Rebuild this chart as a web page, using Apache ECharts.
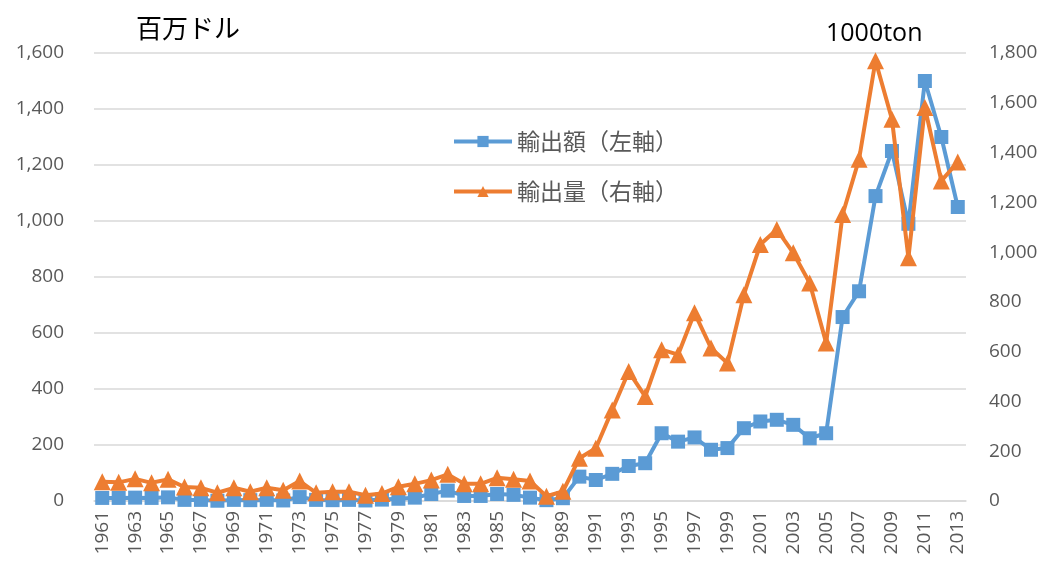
<!DOCTYPE html>
<html>
<head>
<meta charset="utf-8">
<script src="https://cdn.jsdelivr.net/npm/echarts@6/dist/echarts.min.js"></script>
<style>
html,body{margin:0;padding:0;background:#fff;}
#chart{width:1046px;height:566px;}
</style>
</head>
<body>
<div id="chart"></div>
<script>
const years = [];
for (let y = 1961; y <= 2013; y++) years.push(String(y));

const exportValue = [11, 11, 12, 11, 13, 4, 4, 1, 4, 3,
  4, 2, 14, 4, 3, 4, 2, 5, 8, 12,
  25, 37, 18, 18, 25, 22, 12, 3, 10, 87,
  75, 97, 125, 135, 242, 212, 227, 183, 189, 260,
  284, 290, 272, 224, 242, 657, 749, 1089, 1250, 990,
  1500, 1300, 1050];

const exportVolume = [77, 75, 89, 73, 87, 56, 53, 33, 53, 37,
  53, 43, 80, 33, 37, 37, 23, 30, 57, 69,
  84, 107, 69, 69, 93, 87, 80, 19, 39, 172,
  212, 366, 520, 420, 608, 588, 756, 615, 554, 829,
  1031, 1091, 997, 876, 635, 1151, 1373, 1769, 1534, 977,
  1581, 1286, 1362];

const seriesNames = ['輸出額（左軸）', '輸出量（右軸）'];
const leftUnit = '百万ドル';
const rightUnit = '1000ton';

const chart = echarts.init(document.getElementById('chart'), null, {renderer: 'canvas'});
const latin = "'Open Sans', 'Liberation Sans', sans-serif";
const cjk = "'Noto Sans CJK JP', sans-serif";
const grey = '#595959';

chart.setOption({
  animation: false,
  backgroundColor: '#ffffff',
  title: [
    {text: leftUnit, left: 131, top: 10, textStyle: {fontFamily: cjk, fontSize: 26, fontWeight: 'normal', color: '#000'}},
    {text: rightUnit, left: 821, top: 16, textStyle: {fontFamily: latin, fontSize: 25, fontWeight: 'normal', color: '#000'}}
  ],
  legend: {
    data: seriesNames,
    orient: 'vertical',
    left: 447,
    top: 125,
    itemWidth: 58,
    itemHeight: 14,
    itemGap: 27,
    lineStyle: {width: 4},
    textStyle: {fontFamily: cjk, fontSize: 23, color: grey}
  },
  grid: {left: 94, right: 80, top: 53, bottom: 65, containLabel: false},
  xAxis: {
    type: 'category',
    data: years,
    boundaryGap: true,
    axisLine: {show: true, lineStyle: {color: '#D9D9D9', width: 1.5}},
    axisTick: {show: false},
    axisLabel: {interval: 1, rotate: 90, margin: 10, fontFamily: latin, fontSize: 19, color: grey}
  },
  yAxis: [
    {
      type: 'value', min: 0, max: 1600, interval: 200, position: 'left',
      axisLine: {show: false}, axisTick: {show: false},
      splitLine: {show: true, lineStyle: {color: '#D9D9D9', width: 1.5}},
      axisLabel: {margin: 30, fontFamily: latin, fontSize: 19, color: grey,
        formatter: v => v.toLocaleString('en-US')}
    },
    {
      type: 'value', min: 0, max: 1800, interval: 200, position: 'right',
      axisLine: {show: false}, axisTick: {show: false},
      splitLine: {show: false},
      axisLabel: {margin: 23, fontFamily: latin, fontSize: 19, color: grey,
        formatter: v => v.toLocaleString('en-US')}
    }
  ],
  series: [
    {
      name: seriesNames[0], type: 'line', yAxisIndex: 0, data: exportValue,
      symbol: 'rect', symbolSize: 14, showSymbol: true, showAllSymbol: true,
      lineStyle: {color: '#5B9BD5', width: 4},
      itemStyle: {color: '#5B9BD5'},
      z: 2
    },
    {
      name: seriesNames[1], type: 'line', yAxisIndex: 1, data: exportVolume,
      symbol: 'triangle', symbolSize: 17, showSymbol: true, showAllSymbol: true,
      lineStyle: {color: '#ED7D31', width: 4},
      itemStyle: {color: '#ED7D31'},
      z: 3
    }
  ]
});
</script>
</body>
</html>
